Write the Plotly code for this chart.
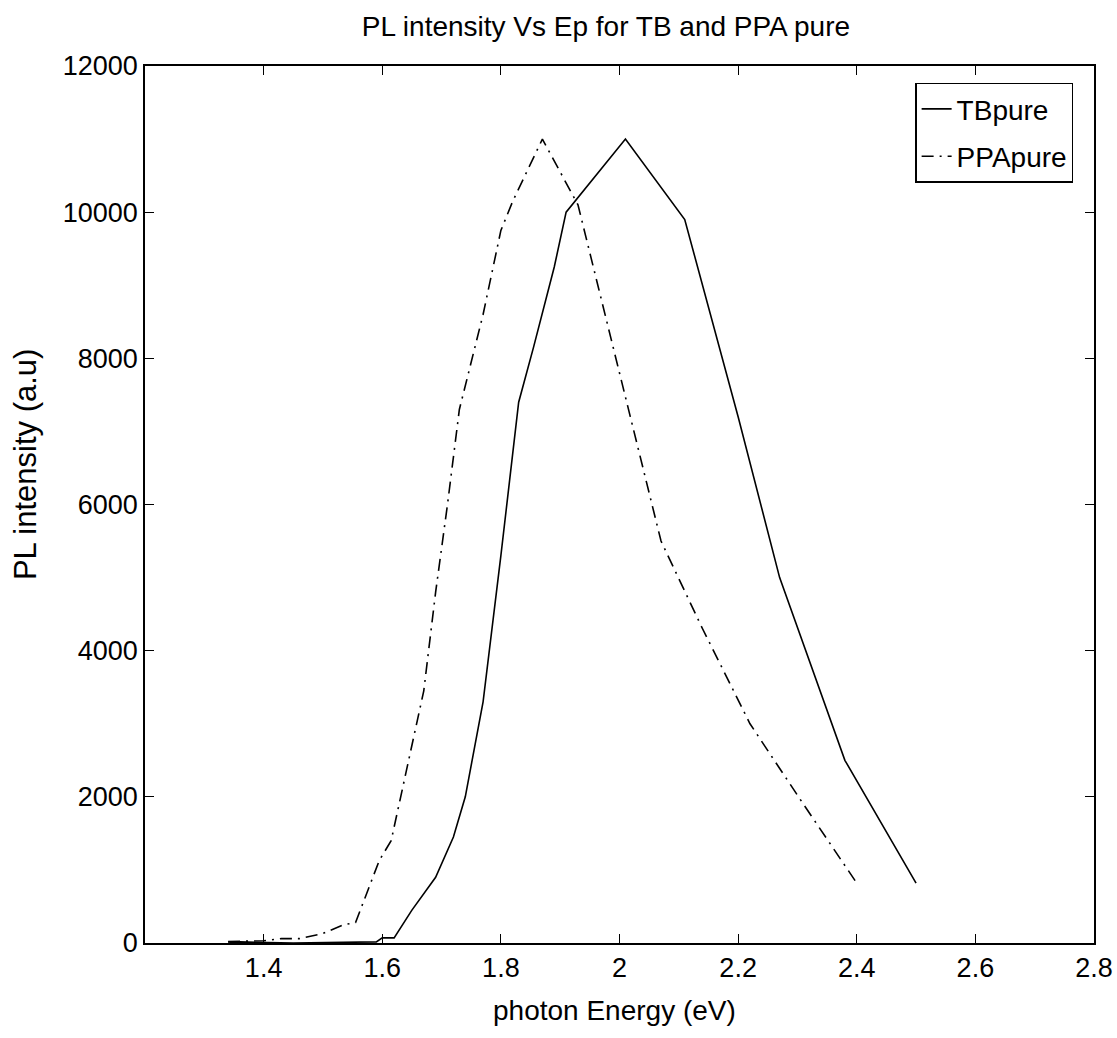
import plotly.graph_objects as go

# TBpure (solid)
tb_x = [1.34, 1.36, 1.45, 1.53, 1.59, 1.60, 1.62, 1.65, 1.69, 1.72, 1.74, 1.77, 1.80, 1.83,
        1.855, 1.89, 1.91, 2.01, 2.11, 2.20, 2.27, 2.38, 2.50]
tb_y = [0, 15, 0, 10, 15, 70, 70, 450, 900, 1450, 2000, 3300, 5300, 7400,
        8150, 9250, 10000, 11000, 9900, 7200, 5000, 2500, 820]

# PPApure (dash-dot)
ppa_x = [1.34, 1.40, 1.43, 1.46, 1.50, 1.535, 1.555, 1.57, 1.595, 1.615, 1.63, 1.65, 1.67,
         1.69, 1.71, 1.73, 1.77, 1.80, 1.82, 1.87, 1.93, 2.00, 2.07, 2.14, 2.22, 2.31, 2.40]
ppa_y = [20, 30, 60, 60, 130, 250, 280, 590, 1130, 1400, 1960, 2750, 3450,
         4800, 6000, 7300, 8600, 9750, 10150, 11000, 10100, 7800, 5500, 4300, 3000, 1900, 820]

x_ticks = [1.4, 1.6, 1.8, 2.0, 2.2, 2.4, 2.6, 2.8]
x_tick_labels = ["1.4", "1.6", "1.8", "2", "2.2", "2.4", "2.6", "2.8"]
y_ticks = [0, 2000, 4000, 6000, 8000, 10000, 12000]
y_tick_labels = ["0", "2000", "4000", "6000", "8000", "10000", "12000"]

FONT = "Liberation Sans, Arial, sans-serif"

fig = go.Figure()
fig.add_trace(go.Scatter(x=tb_x, y=tb_y, mode="lines", name="TBpure", legendgroup="a",
                         line=dict(color="black", width=1.6)))
fig.add_trace(go.Scatter(x=ppa_x, y=ppa_y, mode="lines", name="PPApure", legendgroup="b",
                         line=dict(color="black", width=1.6, dash="12px,6px,2px,6px")))

axis_common = dict(showline=True, linecolor="black", linewidth=1.5, mirror="ticks",
                   ticks="inside", ticklen=9, tickwidth=1.2, tickcolor="black",
                   showgrid=False, zeroline=False, automargin=False,
                   tickfont=dict(family=FONT, size=27, color="black"))

fig.update_xaxes(range=[1.2, 2.8], tickvals=x_ticks, ticktext=x_tick_labels, **axis_common)
fig.update_yaxes(range=[0, 12000], tickvals=y_ticks, ticktext=y_tick_labels, **axis_common)

fig.update_layout(
    width=1117, height=1038,
    margin=dict(l=145, r=23, t=66, b=95),
    paper_bgcolor="white", plot_bgcolor="white",
    title=dict(text="PL intensity Vs Ep for TB and PPA pure", x=0.5425, xanchor="center",
               xref="container", yref="container",
               y=0.975, yanchor="middle", font=dict(family=FONT, size=28, color="black")),
    legend=dict(x=0.978, y=0.981, xanchor="right", yanchor="top",
                bordercolor="black", borderwidth=1.5, bgcolor="white",
                font=dict(family=FONT, size=28, color="black"),
                traceorder="grouped", tracegroupgap=8),
    showlegend=True,
    annotations=[
        dict(text="photon Energy (eV)", xref="paper", yref="paper", x=0.495, y=-0.0764,
             xanchor="center", yanchor="middle", showarrow=False,
             font=dict(family=FONT, size=28, color="black")),
        dict(text="PL intensity (a.u)", xref="paper", yref="paper", x=-0.1264, y=0.545,
             xanchor="center", yanchor="middle", showarrow=False, textangle=-90,
             font=dict(family=FONT, size=31, color="black")),
    ],
)

fig.write_html("out.html")
